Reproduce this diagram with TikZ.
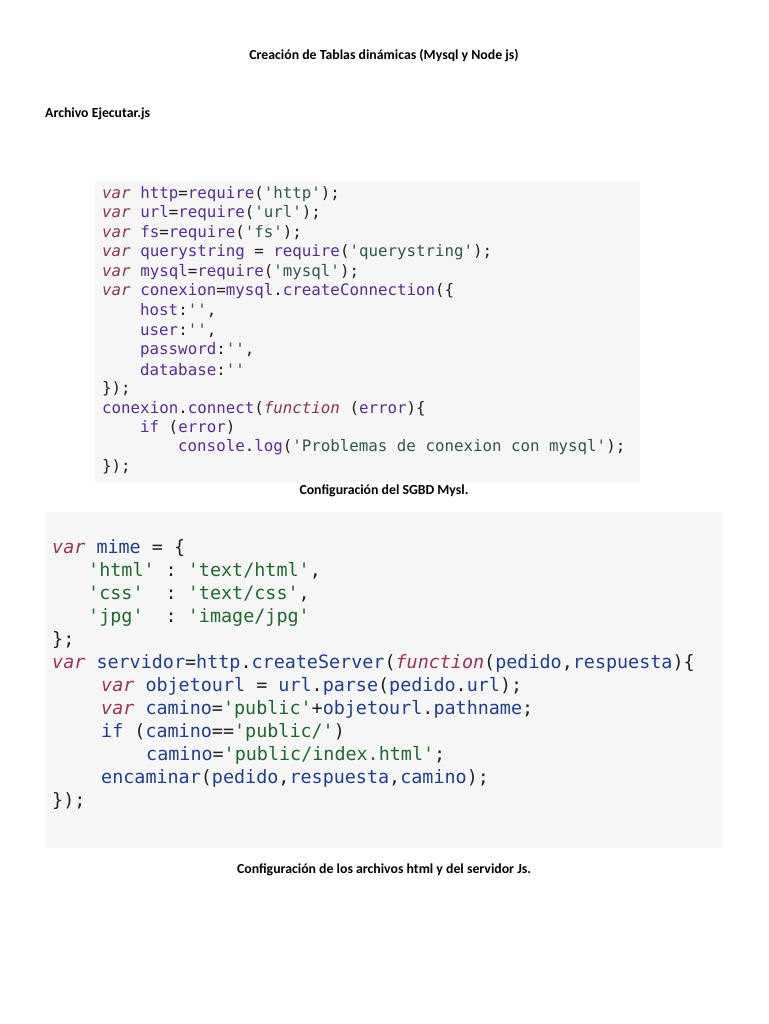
\documentclass[tikz,border=0pt]{standalone}
\usepackage{fontspec}
\setmainfont{Carlito}
\setmonofont{DejaVu Sans Mono}
\definecolor{kwA}{HTML}{8E3548}
\definecolor{idA}{HTML}{5B2C96}
\definecolor{stA}{HTML}{2E5A4A}
\definecolor{kwB}{HTML}{A0305A}
\definecolor{idB}{HTML}{1F3F8F}
\definecolor{stB}{HTML}{1E6B2E}
\definecolor{codebg}{HTML}{F6F6F6}
\definecolor{pun}{HTML}{222222}
\newcommand{\KA}[1]{\textcolor{kwA}{\itshape #1}}
\newcommand{\IA}[1]{\textcolor{idA}{#1}}
\newcommand{\SA}[1]{\textcolor{stA}{#1}}
\newcommand{\KB}[1]{\textcolor{kwB}{\itshape #1}}
\newcommand{\IB}[1]{\textcolor{idB}{#1}}
\newcommand{\SB}[1]{\textcolor{stB}{#1}}
\begin{document}
\begin{tikzpicture}[x=1pt,y=-1pt,
  capt/.style={font=\bfseries\fontsize{13.8}{16}\selectfont, inner sep=0pt},
  lineA/.style={anchor=west, inner sep=0pt, text=pun, font=\ttfamily\fontsize{15.8}{18}\selectfont},
  lineB/.style={anchor=west, inner sep=0pt, text=pun, font=\ttfamily\fontsize{18.4}{21}\selectfont}]
\useasboundingbox (0,0) rectangle (768,1024);
\fill[white] (0,0) rectangle (768,1024);
\node[capt] (title) at (384,56) {Creación de Tablas dinámicas (Mysql y Node js)};
\node[capt, anchor=west] (file) at (45,114) {Archivo Ejecutar.js};
\fill[codebg] (95,182) rectangle (640,482);
\node[lineA] (a1) at (102,194) {\KA{var} \IA{http}=\IA{require}(\SA{'http'});};
\node[lineA] (a2) at (102,213.5) {\KA{var} \IA{url}=\IA{require}(\SA{'url'});};
\node[lineA] (a3) at (102,233) {\KA{var} \IA{fs}=\IA{require}(\SA{'fs'});};
\node[lineA] (a4) at (102,252.5) {\KA{var} \IA{querystring} = \IA{require}(\SA{'querystring'});};
\node[lineA] (a5) at (102,272) {\KA{var} \IA{mysql}=\IA{require}(\SA{'mysql'});};
\node[lineA] (a6) at (102,291.5) {\KA{var} \IA{conexion}=\IA{mysql}.\IA{createConnection}(\{};
\node[lineA] (a7) at (140,311) {\IA{host}:\SA{''},};
\node[lineA] (a8) at (140,330.5) {\IA{user}:\SA{''},};
\node[lineA] (a9) at (140,350) {\IA{password}:\SA{''},};
\node[lineA] (a10) at (140,369.5) {\IA{database}:\SA{''}};
\node[lineA] (a11) at (102,389) {\});};
\node[lineA] (a12) at (102,408.5) {\IA{conexion}.\IA{connect}(\KA{function} (\IA{error})\{};
\node[lineA] (a13) at (140,428) {\IA{if} (\IA{error})};
\node[lineA] (a14) at (178,447.5) {\IA{console}.\IA{log}(\SA{'Problemas de conexion con mysql'});};
\node[lineA] (a15) at (102,467) {\});};
\node[capt] (c1) at (384,491) {Configuración del SGBD Mysl.};
\fill[codebg] (45,512) rectangle (723,848);
\node[lineB] (b1) at (52,548) {\KB{var} \IB{mime} = \{};
\node[lineB] (b2) at (88,571) {\SB{'html'} : \SB{'text/html'},};
\node[lineB] (b3) at (88,594) {\SB{'css'}~~: \SB{'text/css'},};
\node[lineB] (b4) at (88,617) {\SB{'jpg'}~~: \SB{'image/jpg'}};
\node[lineB] (b5) at (52,640) {\};};
\node[lineB] (b6) at (52,663) {\KB{var} \IB{servidor}=\IB{http}.\IB{createServer}(\KB{function}(\IB{pedido},\IB{respuesta})\{};
\node[lineB] (b7) at (101,686) {\KB{var} \IB{objetourl} = \IB{url}.\IB{parse}(\IB{pedido}.\IB{url});};
\node[lineB] (b8) at (101,709) {\KB{var} \IB{camino}=\SB{'public'}+\IB{objetourl}.\IB{pathname};};
\node[lineB] (b9) at (101,732) {\IB{if} (\IB{camino}==\SB{'public/'})};
\node[lineB] (b10) at (146,755) {\IB{camino}=\SB{'public/index.html'};};
\node[lineB] (b11) at (101,778) {\IB{encaminar}(\IB{pedido},\IB{respuesta},\IB{camino});};
\node[lineB] (b12) at (52,801) {\});};
\node[capt] (c2) at (384,870) {Configuración de los archivos html y del servidor Js.};
\end{tikzpicture}
\end{document}
